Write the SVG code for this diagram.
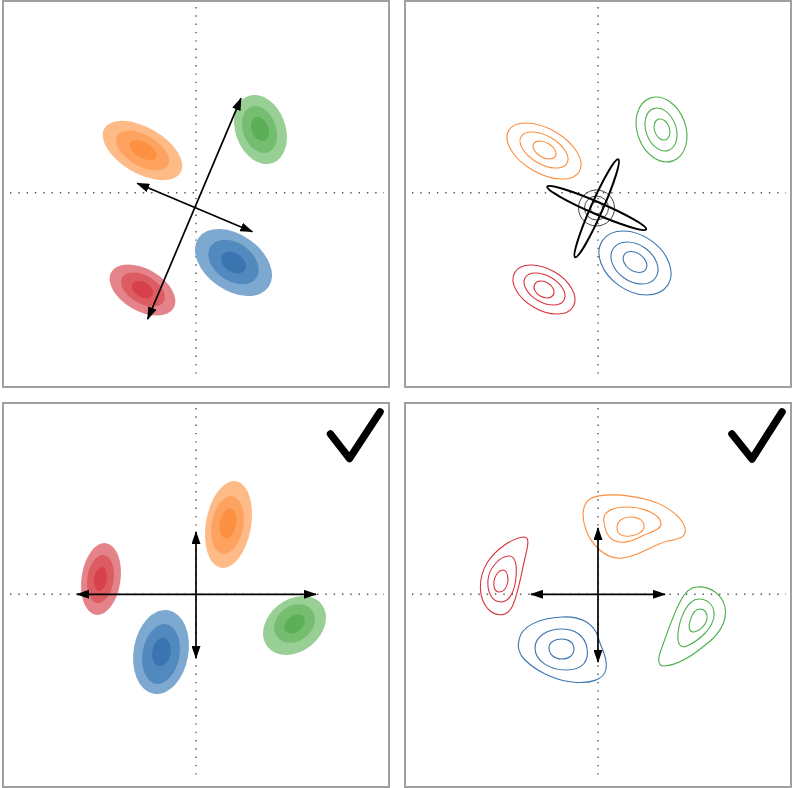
<svg xmlns="http://www.w3.org/2000/svg" width="793" height="788" viewBox="0 0 793 788">
<style>
.frame{fill:#fff;stroke:#a0a0a0;stroke-width:2}
.axis{stroke:#555;stroke-width:1.4;stroke-dasharray:1.4 6.9;fill:none}
.arr{stroke:#000;stroke-width:1.7;fill:none;marker-start:url(#ah);marker-end:url(#ah)}
.chk{stroke:#000;stroke-width:7.5;fill:none;stroke-linecap:round;stroke-linejoin:round}
.o1{fill:#febb87}.o2{fill:#fea35f}.o3{fill:#fd9141}
.g1{fill:#98cf94}.g2{fill:#75bd6f}.g3{fill:#5caf56}
.b1{fill:#7da9d0}.b2{fill:#5289bf}.b3{fill:#3b75af}
.r1{fill:#e4838a}.r2{fill:#dc5c62}.r3{fill:#d7414a}
.co{fill:none;stroke:#fd8d3c;stroke-width:1.1}
.cg{fill:none;stroke:#4daf4a;stroke-width:1.1}
.cb{fill:none;stroke:#3a75b0;stroke-width:1.1}
.cr{fill:none;stroke:#d7333d;stroke-width:1.1}
.blk{fill:none;stroke:#000;stroke-width:2}
.ring{fill:none;stroke:#444;stroke-width:1}
</style>
<defs>
<marker id="ah" viewBox="0 0 13 9" refX="12" refY="4.5" markerWidth="13" markerHeight="9" markerUnits="userSpaceOnUse" orient="auto-start-reverse">
<path d="M0,0 L13,4.5 L0,9 z" fill="#000"/>
</marker>
</defs>

<!-- frames -->
<g id="frames">
<rect class="frame" x="3" y="1" width="386" height="386"/>
<rect class="frame" x="405" y="1" width="386" height="386"/>
<rect class="frame" x="3" y="403" width="386" height="384"/>
<rect class="frame" x="405" y="403" width="386" height="384"/>
</g>

<g id="axes">
<line class="axis" x1="196" y1="7" x2="196" y2="380"/>
<line class="axis" x1="10" y1="192.7" x2="384" y2="192.7"/>
<line class="axis" x1="598" y1="7" x2="598" y2="380"/>
<line class="axis" x1="412" y1="192.7" x2="786" y2="192.7"/>
<line class="axis" x1="196" y1="408" x2="196" y2="781"/>
<line class="axis" x1="10" y1="594.3" x2="384" y2="594.3"/>
<line class="axis" x1="598" y1="408" x2="598" y2="781"/>
<line class="axis" x1="412" y1="594.3" x2="786" y2="594.3"/>
</g>

<!-- top-left: filled clusters -->
<g id="tl-orange">
<ellipse class="o1" cx="142.5" cy="150.5" rx="44" ry="23" transform="rotate(30 142.5 150.5)"/>
<ellipse class="o2" cx="142.5" cy="150.5" rx="29.4" ry="15.5" transform="rotate(30 142.5 150.5)"/>
<ellipse class="o3" cx="143" cy="150" rx="14.9" ry="7.9" transform="rotate(30 143 150)"/>
</g>
<g id="tl-green">
<ellipse class="g1" cx="260.5" cy="129.5" rx="25" ry="35.6" transform="rotate(-20 260.5 129.5)"/>
<ellipse class="g2" cx="259.5" cy="129.5" rx="16.4" ry="24.3" transform="rotate(-20 259.5 129.5)"/>
<ellipse class="g3" cx="260" cy="129" rx="8.4" ry="12.4" transform="rotate(-20 260 129)"/>
</g>
<g id="tl-blue">
<ellipse class="b1" cx="233.5" cy="262.5" rx="42.8" ry="27.9" transform="rotate(35 233.5 262.5)"/>
<ellipse class="b2" cx="233.5" cy="262" rx="27.7" ry="19" transform="rotate(35 233.5 262)"/>
<ellipse class="b3" cx="233.5" cy="262.5" rx="13.6" ry="9.4" transform="rotate(35 233.5 262.5)"/>
</g>
<g id="tl-red">
<ellipse class="r1" cx="142.5" cy="290" rx="36" ry="21" transform="rotate(30 142.5 290)"/>
<ellipse class="r2" cx="143" cy="289.5" rx="24" ry="14" transform="rotate(30 143 289.5)"/>
<ellipse class="r3" cx="142.5" cy="289.5" rx="11.5" ry="7.5" transform="rotate(30 142.5 289.5)"/>
</g>

<!-- top-right: contour outlines -->
<g id="tr-orange">
<ellipse class="co" cx="544" cy="151" rx="40.8" ry="22.2" transform="rotate(30 544 151)"/>
<ellipse class="co" cx="544" cy="150" rx="26.5" ry="14.1" transform="rotate(30 544 150)"/>
<ellipse class="co" cx="544.5" cy="150" rx="12.5" ry="7.5" transform="rotate(30 544.5 150)"/>
</g>
<g id="tr-green">
<ellipse class="cg" cx="661.5" cy="129.5" rx="24.2" ry="33.4" transform="rotate(-20 661.5 129.5)"/>
<ellipse class="cg" cx="661" cy="129.5" rx="15" ry="22.2" transform="rotate(-20 661 129.5)"/>
<ellipse class="cg" cx="662" cy="129.5" rx="7.5" ry="10.8" transform="rotate(-20 662 129.5)"/>
</g>
<g id="tr-blue">
<ellipse class="cb" cx="635" cy="263" rx="39.5" ry="27.6" transform="rotate(35 635 263)"/>
<ellipse class="cb" cx="634.5" cy="263" rx="25.7" ry="18.3" transform="rotate(35 634.5 263)"/>
<ellipse class="cb" cx="635" cy="262" rx="13" ry="9" transform="rotate(35 635 262)"/>
</g>
<g id="tr-red">
<ellipse class="cr" cx="544" cy="289.5" rx="33.8" ry="20.5" transform="rotate(30 544 289.5)"/>
<ellipse class="cr" cx="544.5" cy="289" rx="22.4" ry="13.2" transform="rotate(30 544.5 289)"/>
<ellipse class="cr" cx="544" cy="289.5" rx="10.7" ry="7.6" transform="rotate(30 544 289.5)"/>
</g>
<g id="tr-center">
<circle class="ring" cx="596.5" cy="208" r="18"/>
<circle class="ring" cx="596.5" cy="208" r="12"/>
<circle class="ring" cx="596.5" cy="208" r="6"/>
<ellipse class="blk" cx="596.7" cy="208" rx="53.8" ry="6" transform="rotate(23.3 596.7 208)"/>
<ellipse class="blk" cx="596.7" cy="208.3" rx="53.5" ry="6" transform="rotate(-66.2 596.7 208.3)"/>
</g>

<!-- bottom-left: filled clusters -->
<g id="bl-orange">
<ellipse class="o1" cx="228.5" cy="524.5" rx="22.6" ry="44" transform="rotate(10 228.5 524.5)"/>
<ellipse class="o2" cx="227.5" cy="525" rx="15.9" ry="29.3" transform="rotate(10 227.5 525)"/>
<ellipse class="o3" cx="228" cy="523.5" rx="8.2" ry="15.2" transform="rotate(10 228 523.5)"/>
</g>
<g id="bl-red">
<ellipse class="r1" cx="101" cy="579" rx="19.5" ry="36.2" transform="rotate(8 101 579)"/>
<ellipse class="r2" cx="100.5" cy="579" rx="13.2" ry="24.2" transform="rotate(8 100.5 579)"/>
<ellipse class="r3" cx="100.5" cy="579" rx="6.3" ry="12.1" transform="rotate(8 100.5 579)"/>
</g>
<g id="bl-blue">
<ellipse class="b1" cx="161" cy="652" rx="27.4" ry="42.4" transform="rotate(10 161 652)"/>
<ellipse class="b2" cx="161" cy="654" rx="18.5" ry="30.3" transform="rotate(10 161 654)"/>
<ellipse class="b3" cx="161.5" cy="652" rx="9.3" ry="14.1" transform="rotate(10 161.5 652)"/>
</g>
<g id="bl-green">
<ellipse class="g1" cx="294.5" cy="625.5" rx="34.4" ry="26" transform="rotate(-38 294.5 625.5)"/>
<ellipse class="g2" cx="294.5" cy="623.5" rx="22" ry="17.5" transform="rotate(-38 294.5 623.5)"/>
<ellipse class="g3" cx="294.5" cy="624" rx="11.5" ry="8" transform="rotate(-38 294.5 624)"/>
</g>
<g id="bl-check"><polyline class="chk" points="330.5,434 349.5,458.5 380,412"/></g>

<!-- bottom-right: contour outlines -->
<g id="br-orange">
<path class="co" d="M590,499 C600,493 625,494 645,499 C665,504 682,516 685,528 C687,538 678,539 668,541 C652,545 640,556 622,558 C607,560 592,546 586,530 C582,519 581,505 590,499 Z"/>
<path class="co" d="M604,522 C602,512 612,507 627,507 C645,507 660,515 661,523 C662,530 650,532 642,536 C633,541 622,545 613,540 C607,537 605,530 604,522 Z"/>
<path class="co" d="M617,528 C617,520 624,517 631,517 C639,517 644,521 644,526 C644,532 637,535 630,536 C622,537 617,534 617,528 Z"/>
</g>
<g id="br-red">
<path class="cr" d="M524,537 C512,538 495,550 487,563 C478,578 478,598 488,609 C496,617 507,617 512,607 C518,595 521,575 525,558 C528,546 530,537 524,537 Z"/>
<path class="cr" d="M509,556 C516,556 517,566 516,577 C515,590 510,602 501,602 C492,602 487,592 488,580 C489,568 500,556 509,556 Z"/>
<path class="cr" d="M503,570 C507,570 508,576 508,581 C507,587 504,592 499,592 C495,592 493,587 494,581 C495,575 499,570 503,570 Z"/>
</g>
<g id="br-blue">
<path class="cb" d="M519,640 C521,626 540,618 562,617 C582,616 594,624 598,637 C601,648 608,658 606,669 C604,680 590,684 572,682 C553,680 535,670 525,660 C519,654 517,647 519,640 Z"/>
<path class="cb" d="M535,648 C535,636 548,629 562,629 C575,629 585,636 587,648 C589,660 584,670 566,670 C550,670 535,661 535,648 Z"/>
<path class="cb" d="M549,648 C549,642 555,639 562,639 C569,639 574,643 574,649 C574,655 569,659 562,659 C554,659 549,654 549,648 Z"/>
</g>
<g id="br-green">
<path class="cg" d="M697,587 C710,586 722,594 725,607 C728,622 718,636 704,646 C692,656 678,665 664,666 C657,666 658,658 661,650 C667,634 672,617 680,602 C685,592 690,587 697,587 Z"/>
<path class="cg" d="M699,599 C708,599 715,606 714,616 C713,628 700,640 687,646 C680,649 677,643 678,634 C679,620 687,599 699,599 Z"/>
<path class="cg" d="M700,609 C705,609 708,614 707,619 C706,625 700,631 694,632 C689,632 688,627 690,621 C692,614 695,609 700,609 Z"/>
</g>
<g id="br-check"><polyline class="chk" points="732,434 752,459 782,412"/></g>

<!-- connectors -->
<g id="connectors">
<line class="arr" x1="147.7" y1="319" x2="241" y2="98.3"/>
<line class="arr" x1="137.3" y1="183.3" x2="252.3" y2="231.7"/>
<line class="arr" x1="77" y1="594.3" x2="316" y2="594.3"/>
<line class="arr" x1="196" y1="532" x2="196" y2="658"/>
<line class="arr" x1="531" y1="594.3" x2="665" y2="594.3"/>
<line class="arr" x1="598" y1="528" x2="598" y2="662"/>
</g>
</svg>
